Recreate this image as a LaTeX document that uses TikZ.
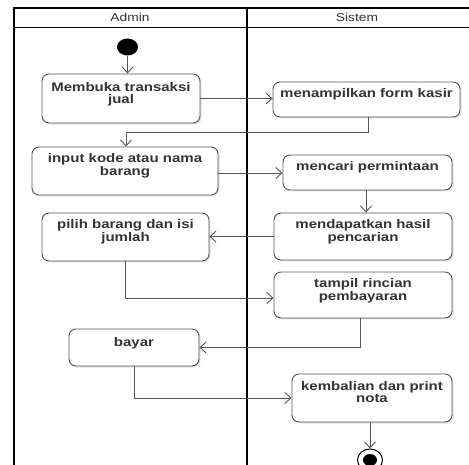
\documentclass[tikz,border=0pt]{standalone}
\usepackage{fontspec}
\newfontfamily\actfont[FakeStretch=1.2]{Liberation Sans Bold}
\newfontfamily\lanefont[FakeStretch=1.2]{Liberation Sans}
\usetikzlibrary{arrows.meta,shapes.geometric,shadows}
\definecolor{edge}{HTML}{555555}
\definecolor{ink}{HTML}{333333}

\begin{document}
\begin{tikzpicture}[x=1pt, y=-1pt, >={Straight Barb[length=6pt,width=11pt]},
  act/.style={draw=edge, line width=0.9pt, rounded corners=7pt, fill=white, align=center,
    inner xsep=2pt, inner ysep=0pt, text height=16pt, text=ink,
    font=\actfont\fontsize{12.5}{12.5}\selectfont,
    drop shadow={shadow xshift=1.5pt, shadow yshift=-1.5pt, fill=black, opacity=0.12}},
  two/.style={text height=28.5pt},
  flow/.style={->, draw=edge, line width=0.9pt},
  lane/.style={line width=1.6pt},
  head/.style={text=ink, font=\lanefont\fontsize{11.5}{11.5}\selectfont}]
\useasboundingbox (0,0) rectangle (469,465);
\clip (0,0) rectangle (469,465);
\fill[white] (0,0) rectangle (469,465);
% swimlanes
\draw[lane] (14,470) -- (14,8) -- (475,8);
\draw[lane] (14,27.5) -- (475,27.5);
\draw[lane] (247,8) -- (247,470);
\node[head] (admin) at (130,17.5) {Admin};
\node[head] (sistem) at (357,17.5) {Sistem};
% activities
\node[ellipse, fill=black, minimum width=21pt, minimum height=17pt, inner sep=0pt] (start) at (127.5,47) {};
\node[act, minimum width=158pt, text height=30pt, text depth=19pt] (buka) at (121,98.5) {Membuka transaksi\\jual};
\node[act, minimum width=187pt, text depth=19pt] (form) at (366.5,99.5) {menampilkan form kasir};
\node[act, two, minimum width=186pt, text depth=19.5pt] (input) at (125,171) {input kode atau nama\\barang};
\node[act, minimum width=169pt, text depth=19pt] (cari) at (367.5,172.5) {mencari permintaan};
\node[act, two, minimum width=178pt, text depth=18.5pt] (hasil) at (363,236.5) {mendapatkan hasil\\pencarian};
\node[act, two, minimum width=167pt, text depth=19.5pt] (pilih) at (125.5,237) {pilih barang dan isi\\jumlah};
\node[act, two, minimum width=178pt, text depth=17.5pt] (rinci) at (363,295) {tampil rincian\\pembayaran};
\node[act, minimum width=130pt, text height=17pt, text depth=20pt] (bayar) at (134,347.5) {bayar};
\node[act, two, minimum width=160pt, text depth=19.5pt] (nota) at (372,398) {kembalian dan print\\nota};
\node[ellipse, draw=black, line width=1pt, fill=white, minimum width=25pt, minimum height=22pt, inner sep=0pt] (stop) at (370,460) {};
\node[ellipse, fill=black, minimum width=14pt, minimum height=12pt, inner sep=0pt] (stopdot) at (stop) {};
% flows
\draw[flow] (start) -- (start |- buka.north);
\draw[flow] (buka.east) -- (buka.east -| form.west);
\draw[flow] ([xshift=1.5pt]form.south) -- ++(0,15) -| ([xshift=1pt]input.north);
\draw[flow] ([yshift=-2pt]input.east) -- ([yshift=-2pt]input.east -| cari.west);
\draw[flow] ([xshift=-1.5pt]cari.south) -- ([xshift=-1.5pt]cari.south |- hasil.north);
\draw[flow] (hasil.west) -- (hasil.west -| pilih.east);
\draw[flow] (pilih.south) |- ([yshift=-3pt]rinci.west);
\draw[flow] ([xshift=-3pt]rinci.south) |- (bayar.east);
\draw[flow] (bayar.south) |- (nota.west);
\draw[flow] ([xshift=-2pt]nota.south) -- ([xshift=-2pt]nota.south |- stop.north);
\end{tikzpicture}
\end{document}
